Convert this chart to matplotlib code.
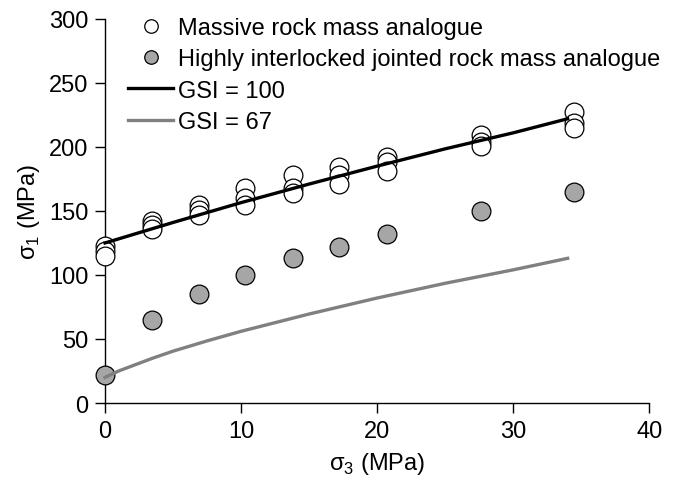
import matplotlib
matplotlib.use("Agg")
import matplotlib.pyplot as plt

plt.rcParams['font.family'] = ['Liberation Sans', 'DejaVu Sans']
plt.rcParams['mathtext.fontset'] = 'custom'
plt.rcParams['mathtext.rm'] = 'Liberation Sans'

# confining pressure levels (MPa)
s3_levels = [0, 3.45, 6.9, 10.3, 13.8, 17.2, 20.7, 27.6, 34.5]

# massive rock mass analogue: three tests per level
massive_s1 = [
    [123, 119, 115],
    [142, 139, 136],
    [155, 151, 147],
    [168, 160, 155],
    [178, 168, 164],
    [184, 178, 171],
    [192, 188, 181],
    [209, 204, 201],
    [227, 219, 215],
]

# highly interlocked jointed rock mass analogue
jointed_s1 = [22, 65, 85, 100, 113, 122, 132, 150, 165]

# GSI = 100 envelope
gsi100_s3 = [0, 5, 10, 15, 20, 25, 30, 34]
gsi100_s1 = [125, 141, 156.5, 171, 185, 198.5, 211, 222]

# GSI = 67 envelope
gsi67_s3 = [0, 1, 2, 3.5, 5, 7.5, 10, 15, 20, 25, 30, 34]
gsi67_s1 = [20, 25, 29, 35, 40.5, 48.5, 56, 69.5, 82, 93.5, 104, 113]

fs = 17

fig = plt.figure(figsize=(6.82, 4.85), dpi=100)
ax = fig.add_axes([0.154, 0.167, 0.798, 0.792])

mx, my = [], []
for x, ys in zip(s3_levels, massive_s1):
    for y in ys:
        mx.append(x)
        my.append(y)

ax.plot(mx, my, 'o', ms=13.5, mfc='white', mec='black', mew=0.9,
        label='Massive rock mass analogue', zorder=3)
ax.plot(s3_levels, jointed_s1, 'o', ms=13.5, mfc='#a6a6a6', mec='black', mew=0.9,
        label='Highly interlocked jointed rock mass analogue', zorder=3)
ax.plot(gsi100_s3, gsi100_s1, '-', color='black', lw=2.4, label='GSI = 100', zorder=4)
ax.plot(gsi67_s3, gsi67_s1, '-', color='#808080', lw=2.4, label='GSI = 67', zorder=4)

ax.set_xlim(0, 40)
ax.set_ylim(0, 300)
ax.set_xticks([0, 10, 20, 30, 40])
ax.set_yticks([0, 50, 100, 150, 200, 250, 300])
for s in ['top', 'right']:
    ax.spines[s].set_visible(False)
for s in ['left', 'bottom']:
    ax.spines[s].set_linewidth(1.0)
ax.tick_params(direction='out', length=7, width=1.0, labelsize=fs, pad=5)

ax.set_xlabel('σ$_3$ (MPa)', fontsize=fs, labelpad=6)
ax.set_ylabel('σ$_1$ (MPa)', fontsize=fs, labelpad=5)

ax.legend(loc='upper left', bbox_to_anchor=(0.025, 1.03), frameon=False,
          fontsize=fs, handlelength=1.9, handletextpad=0.2, labelspacing=0.4,
          borderaxespad=0.0, markerscale=0.72)

for line in ax.lines:
    line.set_clip_on(False)

fig.savefig('out.png', dpi=100)
